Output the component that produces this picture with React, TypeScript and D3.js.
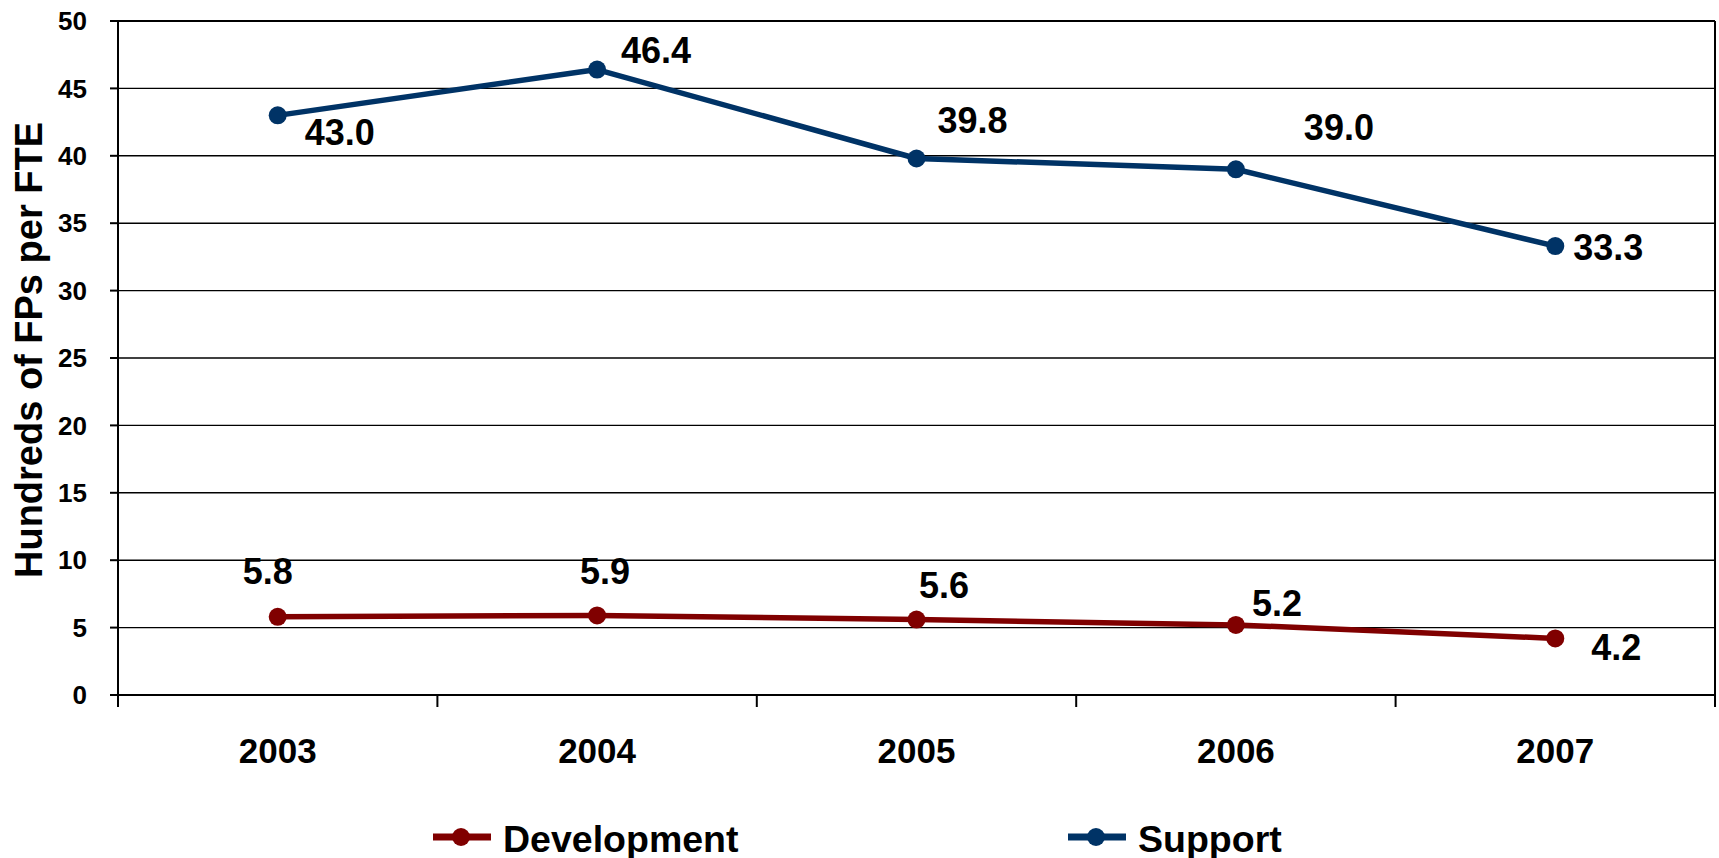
import React from "react";
import * as d3 from "d3";

const YEARS = ["2003", "2004", "2005", "2006", "2007"];
const DEVELOPMENT = [5.8, 5.9, 5.6, 5.2, 4.2];
const SUPPORT = [43.0, 46.4, 39.8, 39.0, 33.3];
const Y_TICKS = [0, 5, 10, 15, 20, 25, 30, 35, 40, 45, 50];
const Y_TITLE = "Hundreds of FPs per FTE";

// manual label placement (offsets from the point, px)
const SUPPORT_LABEL_OFFSETS: [number, number][] = [
  [62, 30],
  [59, -6.5],
  [56, -25],
  [103, -29],
  [53, 14],
];
const DEV_LABEL_OFFSETS: [number, number][] = [
  [-10, -33],
  [8, -31],
  [27.5, -21.5],
  [41, -9],
  [61, 21.6],
];

const W = 1719;
const H = 858;
const PLOT = { left: 118, right: 1715, top: 21, bottom: 695 };
const FONT = "'Liberation Sans', Arial, Helvetica, sans-serif";
const DEV_COLOR = "#800000";
const SUP_COLOR = "#003366";

export default function App() {
  const x = d3
    .scaleBand<string>()
    .domain(YEARS)
    .range([PLOT.left, PLOT.right])
    .padding(0);
  const y = d3.scaleLinear().domain([0, 50]).range([PLOT.bottom, PLOT.top]);
  const cx = (d: string) => (x(d) as number) + x.bandwidth() / 2;

  const line = d3
    .line<number>()
    .x((_, i) => cx(YEARS[i]))
    .y((v) => y(v));

  const boundaries = [...YEARS.map((d) => x(d) as number), PLOT.right];

  const series = [
    { name: "Development", values: DEVELOPMENT, color: DEV_COLOR, offsets: DEV_LABEL_OFFSETS },
    { name: "Support", values: SUPPORT, color: SUP_COLOR, offsets: SUPPORT_LABEL_OFFSETS },
  ];

  const legend = [
    { name: "Development", color: DEV_COLOR, x0: 433 },
    { name: "Support", color: SUP_COLOR, x0: 1068 },
  ];

  return (
    <div style={{ position: "fixed", left: 0, top: 0 }}>
      <svg width={W} height={H} style={{ display: "block", background: "#fff" }} fontFamily={FONT}>
        <rect x={0} y={0} width={W} height={H} fill="#fff" />
        {/* gridlines */}
        {Y_TICKS.map((t) => (
          <line
            key={"g" + t}
            x1={PLOT.left}
            x2={PLOT.right}
            y1={y(t)}
            y2={y(t)}
            stroke="#000"
            strokeWidth={1.4}
          />
        ))}
        {/* plot border */}
        <line x1={PLOT.left} x2={PLOT.right} y1={PLOT.top} y2={PLOT.top} stroke="#000" strokeWidth={2} />
        <line x1={PLOT.right} x2={PLOT.right} y1={PLOT.top} y2={PLOT.bottom} stroke="#000" strokeWidth={2} />
        <line x1={PLOT.left} x2={PLOT.left} y1={PLOT.top} y2={PLOT.bottom} stroke="#000" strokeWidth={2} />
        <line x1={PLOT.left} x2={PLOT.right} y1={PLOT.bottom} y2={PLOT.bottom} stroke="#000" strokeWidth={2} />
        {/* y ticks + labels */}
        {Y_TICKS.map((t) => (
          <g key={"yt" + t}>
            <line x1={PLOT.left - 8} x2={PLOT.left} y1={y(t)} y2={y(t)} stroke="#000" strokeWidth={2} />
            <text
              x={87}
              y={y(t)}
              dy="0.35em"
              textAnchor="end"
              fontSize={26}
              fontWeight="bold"
              fill="#000"
            >
              {t}
            </text>
          </g>
        ))}
        {/* x ticks */}
        {boundaries.map((b, i) => (
          <line key={"xt" + i} x1={b} x2={b} y1={PLOT.bottom} y2={PLOT.bottom + 12} stroke="#000" strokeWidth={2} />
        ))}
        {YEARS.map((d) => (
          <text key={"xl" + d} x={cx(d)} y={763} textAnchor="middle" fontSize={35} fontWeight="bold" fill="#000">
            {d}
          </text>
        ))}
        {/* y title */}
        <text
          transform={`translate(42, 350) rotate(-90)`}
          textAnchor="middle"
          fontSize={38}
          fontWeight="bold"
          fill="#000"
        >
          {Y_TITLE}
        </text>
        {/* series */}
        {series.map((s) => (
          <g key={s.name}>
            <path d={line(s.values) || ""} fill="none" stroke={s.color} strokeWidth={5.5} strokeLinejoin="round" />
            {s.values.map((v, i) => (
              <circle key={i} cx={cx(YEARS[i])} cy={y(v)} r={9} fill={s.color} />
            ))}
            {s.values.map((v, i) => (
              <text
                key={"l" + i}
                x={cx(YEARS[i]) + s.offsets[i][0]}
                y={y(v) + s.offsets[i][1]}
                textAnchor="middle"
                fontSize={36}
                fontWeight="bold"
                fill="#000"
              >
                {v.toFixed(1)}
              </text>
            ))}
          </g>
        ))}
        {/* legend */}
        {legend.map((l) => (
          <g key={"lg" + l.name}>
            <line x1={l.x0} x2={l.x0 + 58} y1={837} y2={837} stroke={l.color} strokeWidth={7} />
            <circle cx={l.x0 + 28} cy={837} r={9} fill={l.color} />
            <text x={l.x0 + 70} y={852} fontSize={37.5} fontWeight="bold" fill="#000">
              {l.name}
            </text>
          </g>
        ))}
      </svg>
    </div>
  );
}
